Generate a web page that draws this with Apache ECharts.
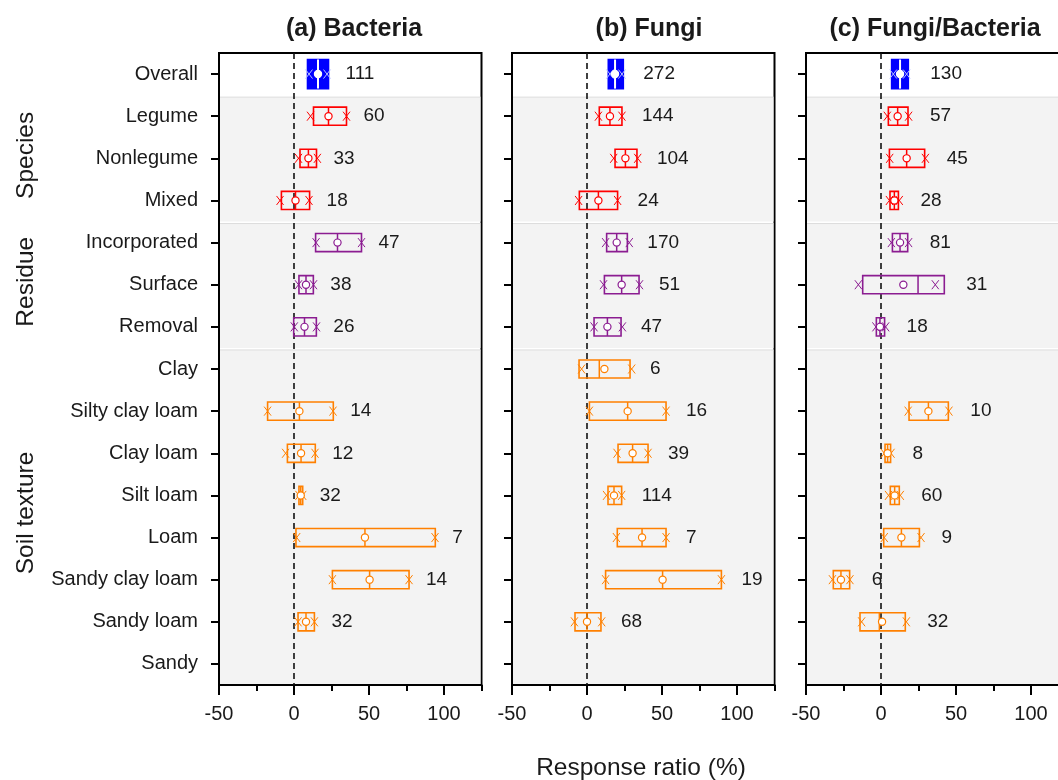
<!DOCTYPE html>
<html>
<head>
<meta charset="utf-8">
<script src="https://cdn.jsdelivr.net/npm/echarts@6/dist/echarts.min.js"></script>
<style>
html,body{margin:0;padding:0;background:#fff;}
#EchartDiv{width:1058px;height:780px;}
</style>
</head>
<body>
<div id="EchartDiv"></div>
<script>
var categories = ['Overall','Legume','Nonlegume','Mixed','Incorporated','Surface','Removal',
	'Clay','Silty clay loam','Clay loam','Silt loam','Loam','Sandy clay loam','Sandy loam','Sandy'];
var categoryGroup = ['overall','species','species','species','residue','residue','residue',
	'soil','soil','soil','soil','soil','soil','soil','soil'];
var panelTitles = ['(a) Bacteria','(b) Fungi','(c) Fungi/Bacteria'];
var xTickLabels = [-50, 0, 50, 100];
var refValue = [0];   // dashed reference line (no effect)

// each row: [box low, box high, median, mean, lower x mark, upper x mark]; null = no data
var bacteriaStats = [
	[9, 23, 16, 16, 10, 22],
	[13, 35, 23, 23, 11, 35],
	[4, 15, 9.6, 9.6, 3, 15.6],
	[-8.4, 10.4, 1, 1, -9.3, 10],
	[14.4, 45, 29, 29, 14.7, 45],
	[3.3, 12.9, 8, 8, 3, 13],
	[-0.2, 14.9, 7, 7, 0.2, 15],
	null,
	[-17.6, 26.2, 3.6, 3.6, -17.6, 26],
	[-4.4, 14.2, 4.7, 4.7, -5.6, 14],
	[3.3, 5.8, 4.5, 4.5, 3.3, 5.8],
	[1.3, 94.2, 47.3, 47.3, 1.8, 94],
	[25.6, 76.7, 50.4, 50.4, 25.6, 76.7],
	[2.7, 13.6, 8, 8, 2.7, 13.6],
	null
];
var bacteriaN = [111, 60, 33, 18, 47, 38, 26, null, 14, 12, 32, 7, 14, 32, null];

var fungiStats = [
	[14.2, 24.2, 18.7, 18.7, 15.3, 23.3],
	[8.2, 23.3, 15.3, 15.3, 7.6, 23.3],
	[18.7, 33.3, 25.6, 25.6, 17.8, 33.8],
	[-5.1, 20.4, 7.6, 7.6, -5.6, 20.4],
	[13.1, 26.9, 19.8, 19.8, 12.4, 28.2],
	[11.6, 34.7, 23.1, 23.1, 11, 35],
	[4.7, 22.7, 13.6, 13.6, 4.7, 23.6],
	[-5.3, 28.7, 8.2, 11.6, -3.6, 29.8],
	[1.6, 52.7, 27.1, 27.1, 1.6, 52.7],
	[20.7, 40.7, 30.4, 30.4, 20, 40.7],
	[14, 23.1, 18, 18, 13, 23.1],
	[20.2, 52.7, 36.7, 36.7, 19.6, 52.7],
	[12.4, 89.6, 50.4, 50.4, 12.4, 89.6],
	[-8, 9.3, 0, 0, -8.4, 9.8],
	null
];
var fungiN = [272, 144, 104, 24, 170, 51, 47, 6, 16, 39, 114, 7, 19, 68, null];

var ratioStats = [
	[7.1, 18.2, 12.7, 12.7, 8.2, 17.1],
	[4.9, 18, 11.1, 11.1, 4.2, 18.4],
	[5.6, 29.1, 17.1, 17.1, 5.8, 29.6],
	[6, 11.6, 8.9, 8.9, 5.6, 12.2],
	[7.6, 17.8, 12.7, 12.7, 6.9, 18.4],
	[-12.2, 42.2, 24.7, 14.9, -15.1, 36.2],
	[-3.1, 2.4, -0.7, -0.7, -3.4, 3.1],
	null,
	[18.7, 44.9, 31.6, 31.6, 18.1, 45.3],
	[2.7, 6.4, 4.4, 4.4, 2.2, 6.7],
	[6.2, 12.2, 9.1, 9.1, 5, 12.9],
	[1.8, 25.6, 13.6, 13.6, 2.2, 26.7],
	[-31.8, -20.9, -26.7, -26.7, -32.4, -20.7],
	[-14, 16.2, -1.1, 0.7, -12.9, 16.9],
	null
];
var ratioN = [130, 57, 45, 28, 81, 31, 18, null, 10, 8, 60, 9, 6, 32, null];

// background groups: [first category index, last category index]
var groupNames = ['Species', 'Residue', 'Soil texture'];
var groupRanges = [[1, 3], [4, 6], [7, 14]];

var groupColors = {overall:'#0000ff', species:'#ff0000', residue:'#8b1c91', soil:'#ff8000'};
var FONT = 'Arial, "Liberation Sans", sans-serif';

var panelStats = [bacteriaStats, fungiStats, ratioStats];
var panelN = [bacteriaN, fungiN, ratioN];
var panelLeft = [219, 512, 806];
var titleCenter = [349, 644, 930];
var labelGap = [17, 20, 22];

var myChart = echarts.init(document.getElementById('EchartDiv'), null, {renderer:'canvas'});

function xMark(x, y, color){
	return {type:'group', children:[
		{type:'line', shape:{x1:x-3.5, y1:y-4.5, x2:x+3.5, y2:y+4.5}, style:{stroke:color, lineWidth:1}},
		{type:'line', shape:{x1:x-3.5, y1:y+4.5, x2:x+3.5, y2:y-4.5}, style:{stroke:color, lineWidth:1}}
	]};
}

function makeRenderBox(gap){
	return function(params, api){
		var cat = api.value(0);
		var grp = categoryGroup[cat];
		var color = groupColors[grp];
		var filled = grp === 'overall';
		var band = api.size([0, 1])[1];
		var h = band * (filled ? 0.69 : 0.43);
		var pLo = api.coord([api.value(1), cat]);
		var pHi = api.coord([api.value(2), cat]);
		var pMed = api.coord([api.value(3), cat]);
		var pMean = api.coord([api.value(4), cat]);
		var pXLo = api.coord([api.value(5), cat]);
		var pXHi = api.coord([api.value(6), cat]);
		var y = pLo[1];
		var inner = filled ? '#ffffff' : color;
		return {type:'group', children:[
			{type:'rect', shape:{x:pLo[0], y:y-h/2, width:pHi[0]-pLo[0], height:h},
				style:{fill:filled ? color : 'none', stroke:color, lineWidth:1.6}},
			{type:'line', shape:{x1:pMed[0], y1:y-h/2, x2:pMed[0], y2:y+h/2},
				style:{stroke:inner, lineWidth:filled ? 2 : 1.5}},
			xMark(pXLo[0], y, filled ? '#b8c0ff' : color),
			xMark(pXHi[0], y, filled ? '#b8c0ff' : color),
			{type:'circle', shape:{cx:pMean[0], cy:y, r:3.6},
				style:{fill:'#ffffff', stroke:filled ? '#ffffff' : color, lineWidth:1.2}},
			{type:'text', style:{text:String(api.value(7)), x:pHi[0]+gap, y:y,
				align:'left', verticalAlign:'middle', fontSize:19, fontFamily:FONT, fill:'#1a1a1a'}}
		]};
	};
}

function makeRenderBand(showNames){
	return function(params, api){
		var cs = params.coordSys;
		var band = api.size([0, 1])[1];
		var top = api.coord([0, api.value(1)])[1] - band/2;
		var bottom = Math.min(api.coord([0, api.value(2)])[1] + band/2, cs.y + cs.height - 1);
		var kids = [
			{type:'rect', shape:{x:cs.x+1, y:top+2, width:cs.width-2, height:bottom-top-2},
				style:{fill:'#f3f3f3'}},
			{type:'line', shape:{x1:cs.x+1, y1:top+2, x2:cs.x+cs.width-1, y2:top+2},
				style:{stroke:'#dcdcdc', lineWidth:1}}
		];
		if (showNames){
			kids.push({type:'text', x:cs.x-193, y:(top+bottom)/2 - 3, rotation:Math.PI/2,
				style:{text:groupNames[params.dataIndex], align:'center', verticalAlign:'middle',
					fontSize:24.5, fontFamily:FONT, fill:'#1a1a1a'}});
		}
		return {type:'group', children:kids};
	};
}

function renderZero(params, api){
	var cs = params.coordSys;
	var x = api.coord([api.value(0), 0])[0];
	return {type:'line', shape:{x1:x, y1:cs.y, x2:x, y2:cs.y+cs.height},
		style:{stroke:'#111', lineWidth:1.6, lineDash:[6, 4]}};
}

var grids = [], xAxes = [], yAxes = [], series = [], titles = [];
for (var g=0; g<3; g++){
	grids.push({left:panelLeft[g], top:53, width:262.5, height:632, show:true,
		backgroundColor:'#ffffff', borderColor:'#000', borderWidth:2, outerBoundsMode:'none'});
	// major ticks + labels
	xAxes.push({type:'value', gridIndex:g, min:-50, max:125, interval:50, position:'bottom',
		axisLine:{show:true, onZero:false, lineStyle:{color:'#000', width:2}},
		axisTick:{show:true, length:10, lineStyle:{color:'#000', width:2}},
		axisLabel:{fontSize:20, fontFamily:FONT, color:'#1a1a1a', margin:19, showMaxLabel:false,
			formatter:function(v){ return xTickLabels.indexOf(v) >= 0 ? String(v) : ''; }},
		splitLine:{show:false}});
	// minor ticks
	xAxes.push({type:'value', gridIndex:g, min:-50, max:125, interval:25, position:'bottom',
		axisLine:{show:false, onZero:false},
		axisTick:{show:true, length:6, lineStyle:{color:'#000', width:2}},
		axisLabel:{show:false}, splitLine:{show:false}});
	yAxes.push({type:'category', gridIndex:g, data:categories, inverse:true, position:'left',
		axisLine:{show:true, onZero:false, lineStyle:{color:'#000', width:2}},
		axisTick:{show:true, length:8, alignWithLabel:true, lineStyle:{color:'#000', width:2}},
		axisLabel:{show:g===0, fontSize:20, fontFamily:FONT, color:'#1a1a1a', margin:21},
		splitLine:{show:false}});

	series.push({
		type:'custom', name:'groups'+g, xAxisIndex:g*2, yAxisIndex:g, z:1, silent:true,
		renderItem:makeRenderBand(g===0),
		encode:{x:0, y:[1, 2]},
		data:groupRanges.map(function(r){ return [0, r[0], r[1]]; })
	});
	series.push({
		type:'custom', name:'zero'+g, xAxisIndex:g*2, yAxisIndex:g, z:2, silent:true,
		renderItem:renderZero,
		encode:{x:0},
		data:refValue.map(function(v){ return [v]; })
	});

	var boxData = [];
	for (var i=0; i<categories.length; i++){
		var s = panelStats[g][i];
		if (!s) continue;
		boxData.push([i].concat(s).concat([panelN[g][i]]));
	}
	series.push({
		type:'custom', name:'box'+g, xAxisIndex:g*2, yAxisIndex:g, z:3, silent:true,
		renderItem:makeRenderBox(labelGap[g]),
		encode:{x:[1, 2, 5, 6], y:0},
		data:boxData
	});

	titles.push({text:panelTitles[g], left:titleCenter[g], top:12, textAlign:'center',
		textStyle:{fontSize:25, fontWeight:'bold', fontFamily:FONT, color:'#1a1a1a'}});
}
titles.push({text:'Response ratio (%)', left:636, top:751, textAlign:'center',
	textStyle:{fontSize:24.5, fontWeight:'normal', fontFamily:FONT, color:'#1a1a1a'}});

var option = {
	backgroundColor:'#ffffff',
	animation:false,
	title:titles,
	grid:grids,
	xAxis:xAxes,
	yAxis:yAxes,
	series:series
};
myChart.setOption(option);
</script>
</body>
</html>
